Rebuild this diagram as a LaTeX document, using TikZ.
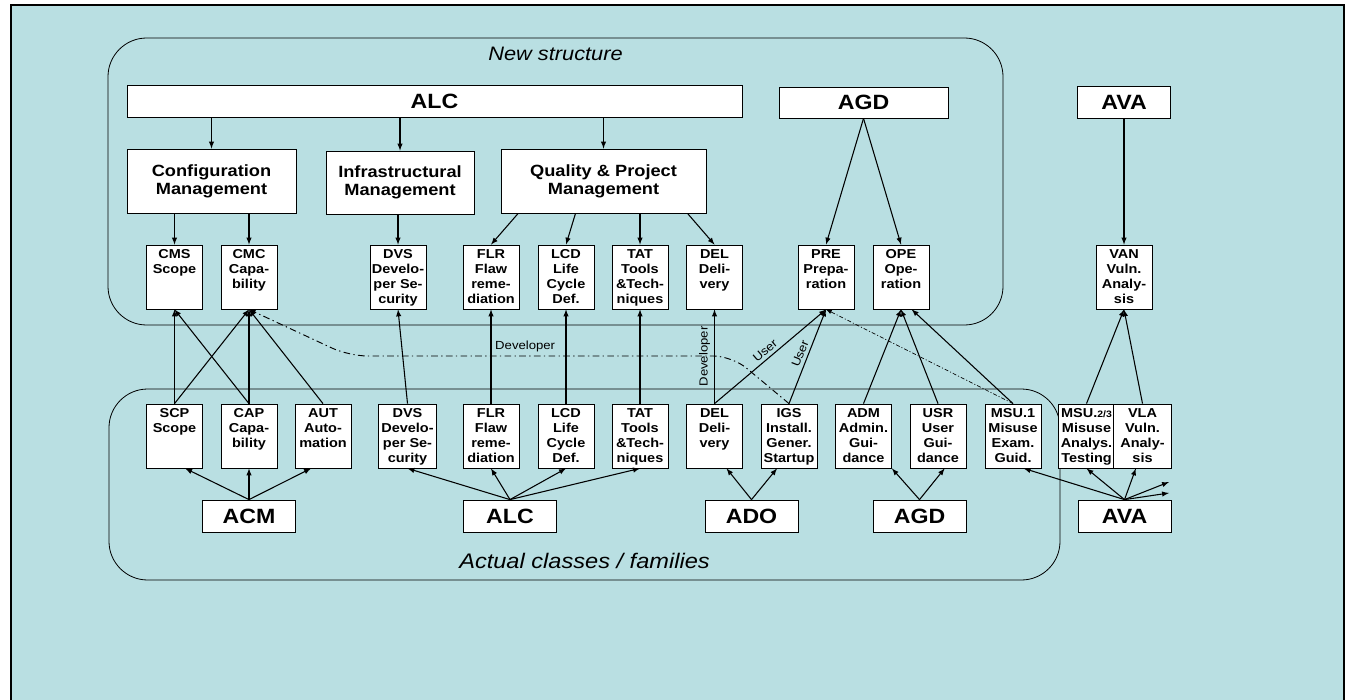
\documentclass[tikz,border=0pt]{standalone}
\usepackage{fontspec}
\setmainfont{Liberation Sans}[FakeStretch=1.12]
\definecolor{bgblue}{RGB}{185,223,226}
\newcommand{\celltext}[1]{\parbox[c][48pt][t]{42pt}{\centering\vspace*{3.2pt}#1}}

\begin{document}
\begin{tikzpicture}[x=0.75pt,y=-0.75pt,
  cell/.style={draw, fill=white, line width=0.6pt, inner sep=0pt, minimum width=42pt, minimum height=48pt, font=\fontsize{9.7}{11.3}\selectfont\bfseries},
  mgmt/.style={draw, fill=white, line width=0.6pt, inner sep=0pt, align=center, minimum height=48pt, font=\fontsize{12.2}{13.5}\selectfont\bfseries},
  fam/.style={draw, fill=white, line width=0.6pt, inner sep=0pt, minimum width=69.75pt, minimum height=24pt, font=\fontsize{15.5}{18}\selectfont\bfseries},
  group/.style={draw, line width=0.6pt, rounded corners=29pt},
  arr/.style={draw, thick, ->, >=latex},
  lbl/.style={font=\fontsize{8.8}{10}\selectfont, inner sep=0.5pt},
  devline/.style={draw, line width=0.7pt, dash pattern=on 5pt off 2.5pt on 1pt off 2.5pt},
  userline/.style={draw, line width=0.5pt, dash pattern=on 3pt off 1.5pt on 0.8pt off 1.5pt}]

\useasboundingbox (0,0) rectangle (1348,699);
\path[draw, line width=2pt, fill=bgblue] (11,5) rectangle (1344,704);

% the two groups
\path[group] (108,38) rectangle (1003,325);
\path[group] (109,389) rectangle (1060,580);
\node[font=\fontsize{14.6}{16}\selectfont\itshape] (newtitle) at (555.5,54) {New structure};
\node[font=\fontsize{15.8}{18}\selectfont\itshape] (acttitle) at (584.5,561) {Actual classes / families};

% new structure
\node[fam, minimum width=461.25pt] (alcN) at (434.5,101) {ALC};
\node[fam, minimum width=126.75pt, minimum height=23.25pt] (agdN) at (863.5,102.5) {AGD};
\node[fam] (avaN) at (1124,102) {AVA};

\node[mgmt, minimum width=126.75pt] (cfg) at (211.5,181) {Configuration\\Management};
\node[mgmt, minimum width=111pt, minimum height=47.25pt] (infra) at (400,182.5) {Infrastructural\\Management};
\node[mgmt, minimum width=153.75pt] (qpm) at (603.5,181) {Quality \& Project\\Management};

\node[cell] (cms) at (174.5,277) {\celltext{CMS\\Scope}};
\node[cell] (cmc) at (249,277) {\celltext{CMC\\Capa-\\bility}};
\node[cell] (dvsN) at (398,277) {\celltext{DVS\\Develo-\\per Se-\\curity}};
\node[cell] (flrN) at (491,277) {\celltext{FLR\\Flaw\\reme-\\diation}};
\node[cell] (lcdN) at (566,277) {\celltext{LCD\\Life\\Cycle\\Def.}};
\node[cell] (tatN) at (640,277) {\celltext{TAT\\Tools\\\&Tech-\\niques}};
\node[cell] (delN) at (714.5,277) {\celltext{DEL\\Deli-\\very}};
\node[cell] (preN) at (826,277) {\celltext{PRE\\Prepa-\\ration}};
\node[cell] (opeN) at (901,277) {\celltext{OPE\\Ope-\\ration}};
\node[cell] (vanN) at (1124,277) {\celltext{VAN\\Vuln.\\Analy-\\sis}};

% actual classes
\node[cell] (scp) at (174.5,436) {\celltext{SCP\\Scope}};
\node[cell] (cap) at (249,436) {\celltext{CAP\\Capa-\\bility}};
\node[cell] (aut) at (323,436) {\celltext{AUT\\Auto-\\mation}};
\node[cell, minimum width=44pt] (dvsL) at (407.5,436) {\celltext{DVS\\Develo-\\per Se-\\curity}};
\node[cell] (flrL) at (491,436) {\celltext{FLR\\Flaw\\reme-\\diation}};
\node[cell] (lcdL) at (566,436) {\celltext{LCD\\Life\\Cycle\\Def.}};
\node[cell] (tatL) at (640,436) {\celltext{TAT\\Tools\\\&Tech-\\niques}};
\node[cell] (delL) at (714.5,436) {\celltext{DEL\\Deli-\\very}};
\node[cell] (igs) at (789,436) {\celltext{IGS\\Install.\\Gener.\\Startup}};
\node[cell] (adm) at (863.5,436) {\celltext{ADM\\Admin.\\Gui-\\dance}};
\node[cell] (usr) at (938,436) {\celltext{USR\\User\\Gui-\\dance}};
\node[cell] (msu1) at (1013,436) {\celltext{MSU.1\\Misuse\\Exam.\\Guid.}};
\node[cell, minimum width=41pt] (msu23) at (1086.5,436) {\celltext{MSU.{\fontsize{7}{8}\selectfont 2/3}\\Misuse\\Analys.\\Testing}};
\node[cell, minimum width=43pt] (vla) at (1142.5,436) {\celltext{VLA\\Vuln.\\Analy-\\sis}};

\node[fam] (acm) at (249,516) {ACM};
\node[fam] (alcL) at (510,516) {ALC};
\node[fam] (ado) at (751.5,516) {ADO};
\node[fam] (agdL) at (919.5,516) {AGD};
\node[fam] (avaL) at (1124.5,516) {AVA};
\coordinate (avaOutA) at (1169,482);
\coordinate (avaOutB) at (1169,493);

% new structure arrows
\path[arr] (cfg |- alcN.south) -- (cfg);
\path[arr] (infra |- alcN.south) -- (infra);
\path[arr] (qpm |- alcN.south) -- (qpm);
\path[arr] (cms |- cfg.south) -- (cms);
\path[arr] (cmc |- cfg.south) -- (cmc);
\path[arr] (dvsN |- infra.south) -- (dvsN);
\path[arr] ([xshift=-64pt]qpm.south) -- (flrN.north);
\path[arr] ([xshift=-21pt]qpm.south) -- (lcdN.north);
\path[arr] (tatN |- qpm.south) -- (tatN);
\path[arr] ([xshift=63pt]qpm.south) -- (delN.north);
\path[arr] (agdN.south) -- (preN.north);
\path[arr] (agdN.south) -- (opeN.north);
\path[arr] (avaN) -- (vanN);

% mapping actual -> new
\path[arr] (scp) -- (cms);
\path[arr] (scp.north) -- (cmc.south);
\path[arr] (cap.north) -- (cms.south);
\path[arr] (cap) -- (cmc);
\path[arr] (aut.north) -- (cmc.south);
\path[arr] (dvsL.north) -- (dvsN.south);
\path[arr] (flrL) -- (flrN);
\path[arr] (lcdL) -- (lcdN);
\path[arr] (tatL) -- (tatN);
\path[arr] (delL) -- node[lbl, sloped, above=2.5pt] {Developer} (delN);
\path[arr] (delL.north) -- node[lbl, sloped, above=2pt] {User} (preN.south);
\path[arr] (igs.north) -- node[lbl, sloped, above=2pt] {User} (preN.south);
\path[arr] (adm.north) -- (opeN.south);
\path[arr] (usr.north) -- (opeN.south);
\path[arr] (msu1.north) -- ([xshift=8pt]opeN.south);
\path[arr] (msu23.north) -- (vanN.south);
\path[arr] (vla.north) -- (vanN.south);
\path[devline, ->, >=latex, rounded corners=14pt] (igs.north) -- (732,356) -- node[lbl, above=2pt, pos=0.54] {Developer} (349,356) -- (cmc.south);
\path[userline, ->, >=latex] (msu1.north) -- (preN.south);

% families
\path[arr] (acm.north) -- ([xshift=8pt]scp.south);
\path[arr] (acm) -- (cap);
\path[arr] (acm.north) -- ([xshift=-9pt]aut.south);
\path[arr] (alcL.north) -- (dvsL.south);
\path[arr] (alcL.north) -- (flrL.south);
\path[arr] (alcL.north) -- (lcdL.south);
\path[arr] (alcL.north) -- (tatL.south);
\path[arr] (ado.north) -- ([xshift=9pt]delL.south);
\path[arr] (ado.north) -- ([xshift=-9pt]igs.south);
\path[arr] (agdL.north) -- (adm.south east);
\path[arr] (agdL.north) -- ([xshift=5pt]usr.south);
\path[arr] (avaL.north) -- ([xshift=8pt]msu1.south);
\path[arr] (avaL.north) -- (msu23.south);
\path[arr] (avaL.north) -- ([xshift=-5pt]vla.south);
\path[arr] (avaL.north) -- (avaOutA);
\path[arr] (avaL.north) -- (avaOutB);
\end{tikzpicture}
\end{document}
